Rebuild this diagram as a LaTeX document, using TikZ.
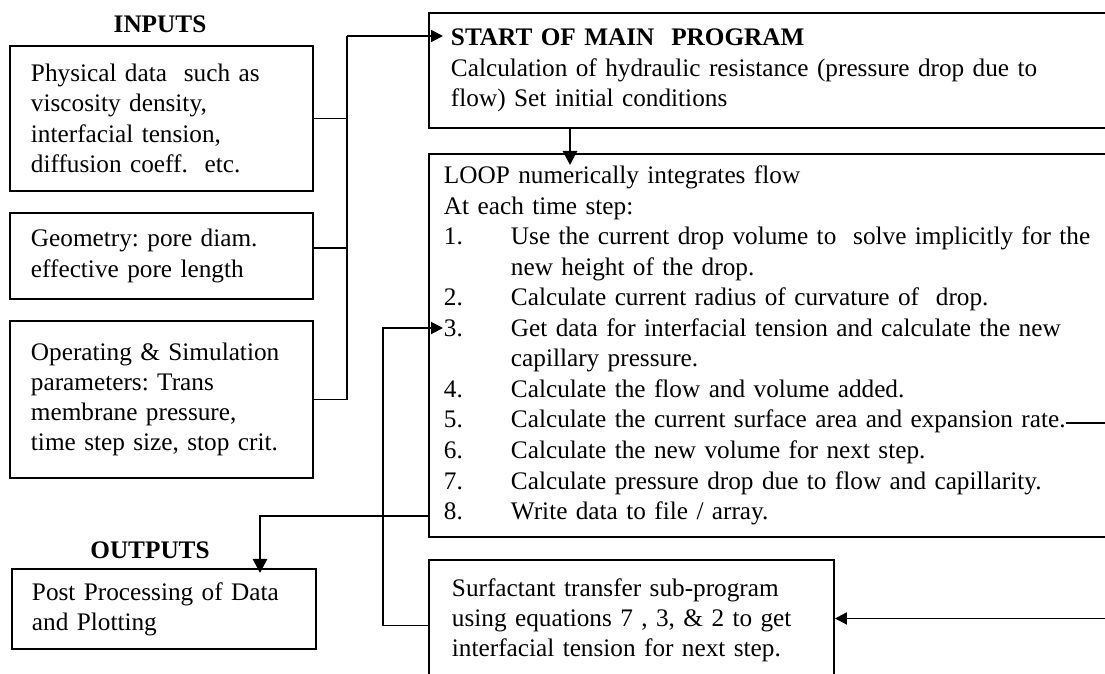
\documentclass[tikz,border=0pt]{standalone}
\usepackage{fontspec}
\setmainfont{Liberation Serif}
\usetikzlibrary{arrows.meta,positioning,calc}
\setlength\parindent{0pt}
\frenchspacing
\newdimen\px \px=0.4633pt
\tikzset{
  box/.style={draw, rectangle, line width=0.9pt, anchor=north west, align=left,
    inner ysep=0pt, font=\fontsize{11.7}{14}\selectfont},
  label/.style={font=\fontsize{11.7}{14}\selectfont\bfseries, anchor=base, inner sep=0pt},
  link/.style={line width=0.9pt},
  flow/.style={line width=0.9pt, -{Triangle[length=5.5pt,width=5.5pt]}},
  heavy/.style={line width=1.3pt, -{Triangle[length=6.5pt,width=6.5pt]}}
}
\newcommand{\stepline}[2]{\par\hangindent=67\px\hangafter=1\noindent\makebox[67\px][l]{#1.}#2}

\begin{document}
\begin{tikzpicture}[x=0.4633pt, y=-0.4633pt]
\useasboundingbox (0,0) rectangle (1105,673);

% inputs
\node[label] (inputs) at (160,32) {INPUTS};
\node[box, minimum width=303\px, minimum height=145\px, inner xsep=21\px, text width=261\px] (phys) at (9,45)
  {Physical data\ \ such as\\viscosity density,\\interfacial tension,\\diffusion coeff.\ \ etc.};
\node[box, minimum width=303\px, minimum height=86\px, inner xsep=21\px, text width=261\px] (geom) at (9,212)
  {Geometry: pore diam.\\effective pore length};
\node[box, minimum width=303\px, minimum height=157\px, inner xsep=21\px, text width=261\px] (oper) at (9,320)
  {Operating \& Simulation\\parameters: Trans\\membrane pressure,\\time step size, stop crit.};

% outputs
\node[label] (outputs) at (150,558) {OUTPUTS};
\node[box, minimum width=304\px, minimum height=80\px, inner xsep=20\px, text width=264\px] (post) at (11,568)
  {Post Processing of Data\\and Plotting};

% main program
\node[box, minimum width=702\px, minimum height=115\px, inner xsep=22\px, text width=658\px] (start) at (428,12)
  {\textbf{START OF MAIN\ \ PROGRAM}\\Calculation of hydraulic resistance (pressure drop due to\\flow) Set initial conditions};
\node[box, font=\fontsize{11.7}{14.15}\selectfont, minimum width=702\px, minimum height=383\px, inner xsep=15\px, text width=672\px] (loop) at (428,153)
  {\noindent LOOP numerically integrates flow\par
   \noindent At each time step:
   \stepline{1}{Use the current drop volume to\ \ solve implicitly for the\newline new height of the drop.}
   \stepline{2}{Calculate current radius of curvature of\ \ drop.}
   \stepline{3}{Get data for interfacial tension and calculate the new\newline capillary pressure.}
   \stepline{4}{Calculate the flow and volume added.}
   \stepline{5}{Calculate the current surface area and expansion rate.}
   \stepline{6}{Calculate the new volume for next step.}
   \stepline{7}{Calculate pressure drop due to flow and capillarity.}
   \stepline{8}{Write data to file / array.}\par};
\node[box, minimum width=405\px, minimum height=121\px, inner xsep=23\px, text width=359\px] (surf) at (428,559)
  {Surfactant transfer sub-program\\using equations 7 , 3, \& 2 to get\\interfacial tension for next step.};

\coordinate (bustop) at (347,36);
\coordinate (ratehook) at (1066,423);

% inputs to main program
\draw[link] (phys.east) -| (bustop);
\draw[link] ([yshift=8\px]geom.east) -| (bustop);
\draw[link] (oper.east) -| (bustop);
\draw[flow] (bustop) -- ([xshift=15\px]start.west |- bustop);
\draw[heavy] (570,0 |- start.south) -- ([yshift=-12\px]570,0 |- loop.north);

% loop to outputs
\draw[heavy] (loop.west |- 0,516) -| ([yshift=-5\px]post.north -| 260,0);

% loop to sub-program and back
\draw[flow] (ratehook) -- (1130,423) |- ([yshift=2\px]surf.east);
\draw[flow] ([yshift=-5\px]surf.west) -| (383,328) -- ([xshift=15\px]loop.west |- 0,328);
\end{tikzpicture}
\end{document}
